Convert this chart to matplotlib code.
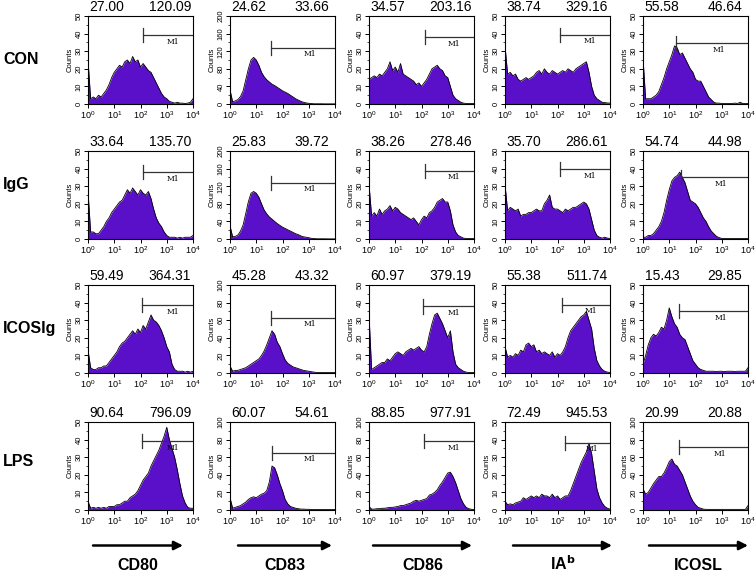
import numpy as np
import matplotlib
matplotlib.use('Agg')
import matplotlib.pyplot as plt
from matplotlib.ticker import MultipleLocator, LogLocator, NullFormatter, FixedLocator

plt.rcParams['font.family'] = ['Liberation Sans', 'DejaVu Sans']

# 行、列标签
groups = ['CON', 'IgG', 'ICOSIg', 'LPS']
markers = ['CD80', 'CD83', 'CD86', r'IA$^{\mathbf{b}}$', 'ICOSL']

# 每个小图上方的两个数字
stats_left = [['27.00', '24.62', '34.57', '38.74', '55.58'],
              ['33.64', '25.83', '38.26', '35.70', '54.74'],
              ['59.49', '45.28', '60.97', '55.38', '15.43'],
              ['90.64', '60.07', '88.85', '72.49', '20.99']]
stats_right = [['120.09', '33.66', '203.16', '329.16', '46.64'],
               ['135.70', '39.72', '278.46', '286.61', '44.98'],
               ['364.31', '43.32', '379.19', '511.74', '29.85'],
               ['796.09', '54.61', '977.91', '945.53', '20.88']]

# y轴上限
y_max = [[50, 200, 50, 50, 50],
         [50, 200, 50, 50, 50],
         [50, 100, 50, 50, 50],
         [50, 100, 100, 50, 100]]

# M1 门的起点 (荧光强度) 和高度 (counts)
gate_start = [[123, 37, 132, 120, 18],
              [120, 37, 132, 123, 28],
              [115, 37, 112, 148, 24],
              [115, 41, 126, 186, 23]]
gate_level = [[39, 128, 38, 39.4, 34.7],
              [38, 128, 38.8, 39.6, 35],
              [38.4, 63, 37.8, 38.8, 35.2],
              [39, 65, 78, 38.3, 71.6]]

# 直方图, 每 0.1 个数量级一个点 (10^0 .. 10^4)
con_cd80 = [25, 3, 4, 3, 5, 4, 6, 8, 11, 15, 18, 20, 22, 21, 24, 25, 23, 27, 24, 25, 21,
            23, 21, 19, 18, 15, 12, 9, 6, 4, 3, 1.5, 1, 0.5, 1, 0.5, 0.5, 0.3, 0.5, 1, 3]
con_cd83 = [32, 5, 7, 10, 17, 30, 55, 80, 100, 106, 100, 88, 72, 62, 55, 50, 45, 42, 38, 34, 30,
            27, 24, 20, 16, 12, 9, 6, 4, 2.5, 1.5, 1, 0.5, 0.5, 0.5, 0.5, 0.3, 0.3, 0.3, 0.3, 0.3]
con_cd86 = [14, 15, 16, 15, 17, 16, 18, 20, 24, 19, 21, 18, 23, 17, 16, 15, 14, 13, 11, 12, 10,
            12, 14, 17, 20, 21, 22, 20, 19, 16, 15, 10, 5, 3, 2, 1, 0.5, 0.3, 0.3, 0.3, 0.3]
con_iab = [33, 17, 18, 16, 17, 14, 13, 14, 15, 14, 15, 16, 18, 19, 17, 20, 18, 17, 19, 18, 17,
           18, 19, 18, 20, 19, 18, 20, 21, 22, 23, 24, 18, 10, 5, 3, 2, 1, 0.8, 0.6, 0.5]
con_icosl = [26, 3, 3, 3, 4, 5, 7, 11, 15, 20, 24, 28, 33, 32, 28, 29, 26, 23, 20, 18, 14,
             13, 13, 10, 7, 4, 2.5, 1, 0.5, 0.5, 0.3, 0.3, 0.3, 0.3, 0.3, 0.5, 0.3, 1, 0.3, 0.3, 0.3]

igg_cd80 = [27, 4, 4, 3, 3, 5, 7, 10, 12, 15, 17, 19, 21, 22, 25, 28, 26, 29, 27, 25, 28,
            26, 25, 27, 23, 17, 12, 9, 7, 4, 2, 1, 1, 1, 0.5, 1, 0.5, 1, 1, 1, 2]
igg_cd83 = [30, 5, 6, 9, 18, 32, 58, 85, 104, 108, 104, 95, 80, 66, 57, 50, 45, 40, 35, 31, 27,
            24, 21, 18, 15, 12, 10, 7, 5, 4, 3, 1.5, 1, 0.5, 0.5, 0.5, 0.5, 0.3, 0.3, 0.3, 0.3]
igg_cd86 = [31, 13, 15, 13, 17, 14, 16, 17, 19, 16, 18, 17, 15, 14, 13, 12, 11, 12, 10, 8, 11,
            13, 12, 15, 16, 18, 21, 22, 23, 21, 21, 16, 8, 4, 2, 1.2, 0.5, 0.3, 0.3, 0.3, 0.3]
igg_iab = [31, 16, 18, 17, 16, 17, 13, 14, 14, 15, 15, 16, 17, 16, 16, 20, 22, 25, 18, 17, 17,
           16, 15, 17, 16, 17, 18, 18, 19, 20, 21, 20, 17, 11, 5, 2, 1, 0.5, 1, 0.5, 0.3]
igg_icosl = [1, 1, 2, 2, 3, 5, 7, 10, 15, 22, 28, 33, 35, 36, 38, 35, 32, 27, 22, 21, 20,
             18, 15, 12, 10, 7, 4.5, 3, 1.5, 0.8, 0.3, 0.3, 0.3, 0.3, 0.3, 0.3, 0.3, 0.3, 0.3, 0.3, 0.3]

ics_cd80 = [13, 3, 2, 2, 3, 3, 4, 4, 6, 8, 10, 12, 15, 17, 18, 20, 22, 24, 22, 25, 23,
            27, 25, 29, 33, 30, 29, 27, 24, 20, 15, 12, 5, 2, 1, 1, 1, 0.5, 1, 0.5, 1]
ics_cd83 = [8, 2, 3, 3, 4, 5, 6, 8, 10, 12, 14, 16, 20, 25, 32, 40, 48, 44, 35, 30, 22,
            15, 11, 9, 7, 6, 5, 4, 3, 2.5, 2, 1.5, 1, 0.5, 0.5, 0.5, 0.5, 0.5, 0.5, 0.5, 0.5]
ics_cd86 = [33, 2, 3, 4, 5, 6, 6, 8, 7, 9, 11, 12, 11, 10, 12, 13, 14, 13, 14, 15, 13,
            12, 15, 22, 28, 33, 34, 31, 28, 24, 20, 24, 12, 5, 3, 2, 1, 0.5, 0.3, 0.3, 0.3]
ics_iab = [15, 9, 10, 9, 11, 10, 13, 12, 16, 17, 15, 16, 12, 13, 11, 12, 11, 10, 12, 9, 11,
           10, 12, 15, 20, 24, 26, 28, 30, 32, 33, 35, 30, 25, 14, 7, 4, 2, 1, 0.5, 0.3]
ics_icosl = [5, 10, 16, 20, 22, 21, 23, 26, 25, 30, 37, 32, 28, 26, 22, 20, 19, 15, 11, 7, 5,
             3, 2, 1.5, 1, 1, 1, 1, 0.8, 1, 1, 0.8, 1, 1, 1, 0.8, 1, 1, 1, 1, 3]

lps_cd80 = [5, 1, 1.5, 1, 1.5, 1, 1.5, 1, 2, 2, 2, 3, 3, 4, 5, 5, 7, 8, 9, 11, 14,
            17, 19, 21, 25, 28, 31, 34, 38, 42, 47, 40, 35, 30, 23, 15, 8, 4, 1.5, 1, 1]
lps_cd83 = [14, 2, 3, 4, 5, 7, 9, 12, 14, 15, 14, 16, 18, 19, 22, 32, 50, 48, 40, 30, 22,
            12, 7, 4, 3, 2, 1.5, 1, 1, 0.8, 0.8, 0.5, 0.5, 0.5, 0.5, 0.5, 0.5, 0.5, 0.5, 0.5, 0.5]
lps_cd86 = [4, 1, 1, 1.5, 1.5, 2, 2, 2.5, 3, 3, 3.5, 4, 5, 5, 6, 7, 8, 10, 11, 10, 11,
            12, 13, 17, 18, 20, 23, 28, 32, 37, 42, 43, 38, 31, 22, 13, 7, 3, 1.5, 0.8, 0.5]
lps_iab = [5, 3, 3.5, 3, 4, 4.5, 5, 7, 6, 7, 8, 7, 8, 7, 9, 8, 8, 7, 9, 7, 8,
           6, 7, 8, 8, 11, 15, 19, 23, 27, 30, 33, 38, 32, 22, 12, 7, 4, 2, 1, 0.5]
lps_icosl = [24, 18, 20, 25, 30, 34, 38, 38, 42, 48, 55, 58, 52, 50, 45, 40, 32, 24, 16, 10, 6,
             3, 2, 1, 0.7, 0.7, 0.7, 0.7, 0.7, 0.7, 0.7, 0.7, 0.7, 0.7, 0.7, 0.7, 0.7, 0.7, 0.7, 0.7, 5]

hists = [[con_cd80, con_cd83, con_cd86, con_iab, con_icosl],
         [igg_cd80, igg_cd83, igg_cd86, igg_iab, igg_icosl],
         [ics_cd80, ics_cd83, ics_cd86, ics_iab, ics_icosl],
         [lps_cd80, lps_cd83, lps_cd86, lps_iab, lps_icosl]]

PURPLE = '#5a0fc8'
W, H = 755, 574
col_left = [88, 230, 369, 505, 643]
row_top = [16, 151, 285, 422]
ax_w, ax_h = 105, 88
label_y = [59, 184, 328, 461]
arrow_x = [(93, 183), (238, 332), (373, 472), (513, 612), (649, 748)]

x = np.logspace(0, 4, 41)

fig = plt.figure(figsize=(W / 100, H / 100), dpi=100)

for i in range(4):
    for j in range(5):
        ax = fig.add_axes([col_left[j] / W, 1 - (row_top[i] + ax_h) / H, ax_w / W, ax_h / H])
        y = hists[i][j]
        ymax = y_max[i][j]
        ax.fill_between(x, 0, y, color=PURPLE, lw=0)
        ax.plot(x, y, color='black', lw=0.6)
        ax.set_xscale('log')
        ax.set_xlim(1, 1e4)
        ax.set_ylim(0, ymax)

        # 坐标轴刻度
        ax.xaxis.set_major_locator(FixedLocator([1, 10, 100, 1000, 10000]))
        ax.xaxis.set_minor_locator(LogLocator(base=10, subs=np.arange(2, 10)))
        ax.xaxis.set_minor_formatter(NullFormatter())
        ax.set_xticklabels([r'$\mathregular{10^{%d}}$' % k for k in range(5)])
        ax.yaxis.set_major_locator(MultipleLocator(ymax / 5))
        ax.yaxis.set_minor_locator(MultipleLocator(ymax / 10))
        ax.yaxis.set_major_formatter(plt.FuncFormatter(lambda v, p: '%d' % v))
        ax.tick_params(axis='x', which='major', length=3, width=0.7, labelsize=6.5, pad=1)
        ax.tick_params(axis='x', which='minor', length=1.5, width=0.5)
        ax.tick_params(axis='y', which='major', length=3, width=0.7, labelsize=5.5, pad=1)
        ax.tick_params(axis='y', which='minor', length=1.5, width=0.5)
        for lab in ax.get_yticklabels():
            lab.set_rotation(90)
            lab.set_va('center')
        for s in ax.spines.values():
            s.set_linewidth(0.8)
        ax.set_ylabel('Counts', fontsize=5.5, labelpad=1)

        # M1 门
        g = gate_start[i][j]
        h = gate_level[i][j]
        ax.plot([g, 1e4], [h, h], color='#333333', lw=0.9)
        ax.plot([g, g], [h - 0.08 * ymax, h + 0.08 * ymax], color='#333333', lw=0.9)
        lg = np.log10(g)
        ax.text(10 ** (lg + 0.6 * (4 - lg)), h - 0.075 * ymax, 'M1', fontsize=5.5,
                family='DejaVu Serif', ha='center', va='center')

        # 上方数字
        ax.text(0.18, 1.06, stats_left[i][j], transform=ax.transAxes, ha='center',
                va='baseline', fontsize=10)
        ax.text(0.78, 1.06, stats_right[i][j], transform=ax.transAxes, ha='center',
                va='baseline', fontsize=10)

# 行标签
for i in range(4):
    fig.text(3 / W, 1 - label_y[i] / H, groups[i], fontsize=11.5, fontweight='bold',
             ha='left', va='center')

# 底部箭头和标记名
for j in range(5):
    x0, x1 = arrow_x[j]
    fig.add_artist(matplotlib.patches.FancyArrowPatch(
        (x0 / W, 1 - 545.5 / H), (x1 / W, 1 - 545.5 / H), transform=fig.transFigure,
        arrowstyle='-|>', mutation_scale=13, lw=1.8, color='black', shrinkA=0, shrinkB=0))
    fig.text((x0 + x1) / 2 / W, 1 - 570 / H, markers[j], fontsize=11.5, fontweight='bold',
             ha='center', va='baseline')

fig.savefig('out.png', dpi=100)
